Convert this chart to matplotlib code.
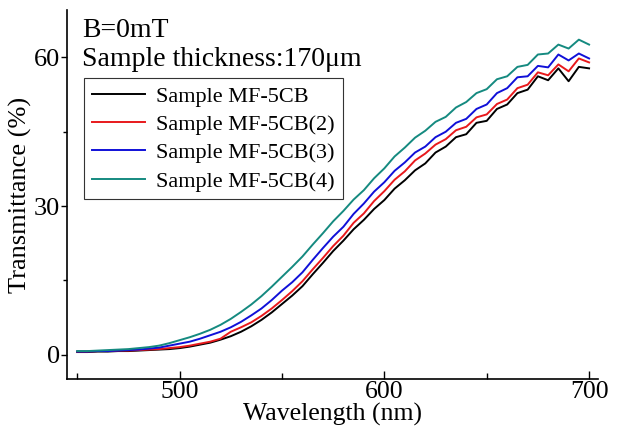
import numpy as np
import matplotlib.pyplot as plt
from matplotlib.ticker import MultipleLocator

plt.rcParams["font.family"] = "Liberation Serif"

# wavelength grid (nm)
wavelength = np.arange(450, 701, 5)

# transmittance (%)
t_mf5cb = [0.5, 0.5, 0.6, 0.6, 0.7, 0.7, 0.8, 0.9, 1.0, 1.1,
           1.3, 1.6, 2.0, 2.4, 3.0, 3.7, 4.6, 5.7, 7.0, 8.5,
           10.2, 11.9, 13.8, 16.2, 18.5, 20.9, 23.0, 25.3, 27.2, 29.4,
           31.2, 33.5, 35.2, 37.2, 38.6, 40.8, 42.0, 43.9, 44.5, 46.8,
           47.2, 49.6, 50.5, 52.8, 53.5, 56.2, 55.4, 57.8, 55.2, 58.1, 57.8]
t_mf5cb_2 = [0.6, 0.6, 0.7, 0.7, 0.8, 0.8, 0.9, 1.0, 1.1, 1.3,
             1.5, 1.8, 2.2, 2.6, 3.2, 4.6, 5.5, 6.5, 7.8, 9.3,
             11.0, 12.8, 14.8, 17.2, 19.5, 21.9, 24.0, 26.6, 28.5, 31.0,
             33.0, 35.3, 37.0, 39.2, 40.6, 42.4, 43.5, 45.3, 46.0, 47.9,
             48.5, 50.6, 51.5, 53.8, 54.5, 57.0, 56.4, 58.6, 57.2, 59.8, 59.0]
t_mf5cb_3 = [0.6, 0.6, 0.7, 0.7, 0.8, 0.9, 1.0, 1.2, 1.4, 1.8,
             2.2, 2.6, 3.2, 3.9, 4.6, 5.5, 6.6, 7.9, 9.3, 11.0,
             12.9, 14.6, 16.6, 19.1, 21.5, 23.8, 25.8, 28.4, 30.5, 32.9,
             34.8, 37.1, 38.8, 40.8, 42.0, 43.9, 45.0, 46.8, 47.6, 49.6,
             50.5, 52.8, 53.8, 56.0, 56.2, 58.3, 58.0, 60.6, 59.4, 60.8, 59.8]
t_mf5cb_4 = [0.7, 0.7, 0.8, 0.9, 1.0, 1.1, 1.3, 1.5, 1.8, 2.3,
             2.9, 3.5, 4.2, 5.0, 6.0, 7.2, 8.6, 10.1, 11.8, 13.7,
             15.7, 17.7, 19.8, 22.2, 24.5, 26.9, 29.0, 31.3, 33.2, 35.6,
             37.6, 40.0, 41.8, 43.8, 45.2, 47.0, 48.0, 49.9, 51.0, 52.8,
             53.6, 55.6, 56.2, 58.1, 58.5, 60.6, 60.8, 62.6, 61.8, 63.6, 62.6]

labels = ["Sample MF-5CB", "Sample MF-5CB(2)", "Sample MF-5CB(3)", "Sample MF-5CB(4)"]
colors = ["#000000", "#e8191c", "#1010d8", "#158a80"]
series = [t_mf5cb, t_mf5cb_2, t_mf5cb_3, t_mf5cb_4]

fig = plt.figure(figsize=(6.2, 4.32), dpi=100)
ax = fig.add_axes([0.108, 0.122, 0.857, 0.855])

for y, c, lab in zip(series, colors, labels):
    ax.plot(wavelength, y, color=c, linewidth=1.4, label=lab)

ax.set_xlim(445, 704.5)
ax.set_ylim(-5, 69.6)
ax.xaxis.set_major_locator(MultipleLocator(100))
ax.xaxis.set_minor_locator(MultipleLocator(50))
ax.yaxis.set_major_locator(MultipleLocator(30))
ax.yaxis.set_minor_locator(MultipleLocator(15))
ax.tick_params(axis='x', which='both', direction='in', labelsize=18.5, pad=1)
ax.tick_params(axis='x', which='major', length=6, width=1)
ax.tick_params(axis='x', which='minor', length=4, width=1)
ax.tick_params(axis='y', which='both', direction='out', labelsize=19, pad=1)
ax.tick_params(axis='y', which='major', length=4, width=1)
ax.tick_params(axis='y', which='minor', length=3, width=1)

for side in ['top', 'right']:
    ax.spines[side].set_visible(False)
for side in ['left', 'bottom']:
    ax.spines[side].set_linewidth(1.2)

ax.set_xlabel("Wavelength (nm)", fontsize=18.5, labelpad=0)
ax.set_ylabel("Transmittance (%)", fontsize=19, labelpad=1)

ax.text(0.028, 0.927, "B=0mT", transform=ax.transAxes, fontsize=20, va='baseline')
ax.text(0.028, 0.848, "Sample thickness:170\u03bcm", transform=ax.transAxes, fontsize=20, va='baseline')

leg = ax.legend(loc='upper left', bbox_to_anchor=(0.032, 0.815), borderaxespad=0,
                fontsize=16, frameon=True, fancybox=False, framealpha=1,
                edgecolor='#333333', handlelength=2.4, handletextpad=0.5,
                labelspacing=0.35, borderpad=0.35)
leg.get_frame().set_linewidth(0.8)

plt.savefig("out.png", dpi=100)
